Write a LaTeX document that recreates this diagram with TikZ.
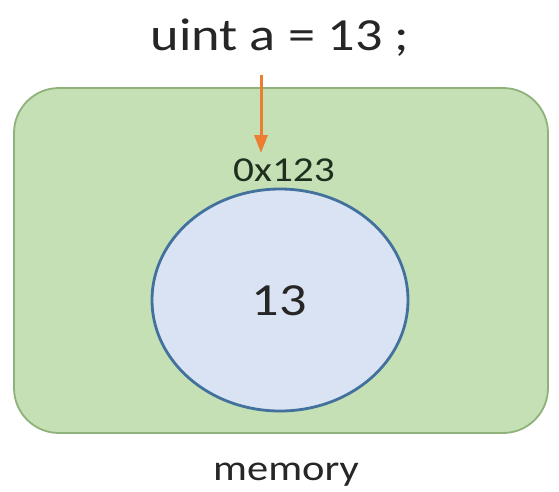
\documentclass[tikz,border=0pt]{standalone}
\usepackage{fontspec}
\setmainfont{Carlito}[FakeStretch=1.18]
\usetikzlibrary{arrows.meta,shapes.geometric}
\definecolor{memfill}{HTML}{C5E0B4}
\definecolor{memdraw}{HTML}{8FB27A}
\definecolor{cellfill}{HTML}{DAE3F3}
\definecolor{celldraw}{HTML}{41719C}
\definecolor{arrowc}{HTML}{ED7D31}
\definecolor{txt}{HTML}{262626}
\definecolor{addrtxt}{HTML}{1F2F1F}
\begin{document}
\begin{tikzpicture}[x=1pt,y=-1pt,
  membox/.style={draw=memdraw,fill=memfill,line width=1.8pt,rounded corners=45pt},
  cell/.style={draw=celldraw,fill=cellfill,line width=2.8pt},
  lbl/.style={text=txt,inner sep=0pt,anchor=base}]
\useasboundingbox (0,0) rectangle (559,491);
\fill[white] (0,0) rectangle (559,491);
\draw[membox] (14,88) rectangle (548,433);
\node[cell,ellipse,minimum width=256pt,minimum height=222pt] (cell) at (280,300) {};
\node[lbl,font=\fontsize{46}{50}\selectfont] (decl) at (280,50) {uint a = 13 ;};
\node[lbl,font=\fontsize{35}{40}\selectfont,text=addrtxt] (addr) at (284,181) {0x123};
\node[lbl,font=\fontsize{46}{52}\selectfont] (val) at (279,315) {13};
\node[lbl,font=\fontsize{36}{40}\selectfont] (mem) at (286,480) {memory};
\coordinate (astart) at (261,75);
\coordinate (aend) at (261,153);
\draw[arrowc,line width=3pt,-{Triangle[length=18pt,width=13pt]}] (astart) -- (aend);
\end{tikzpicture}
\end{document}
